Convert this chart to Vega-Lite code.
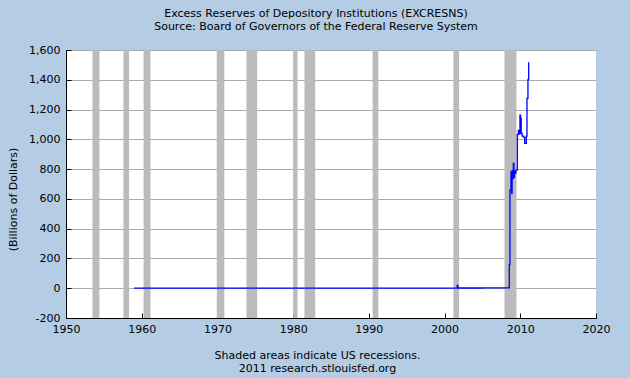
{
  "$schema": "https://vega.github.io/schema/vega-lite/v6.json",
  "autosize": "none",
  "width": 530,
  "height": 268,
  "padding": {"left": 66, "top": 50, "right": 34, "bottom": 60},
  "background": "#B4CCE4",
  "config": {
    "view": {"fill": "white", "stroke": null},
    "font": "DejaVu Sans",
    "axis": {
      "labelFont": "DejaVu Sans",
      "titleFont": "DejaVu Sans",
      "labelFontSize": 11,
      "titleFontSize": 11,
      "titleFontWeight": "normal",
      "labelColor": "black",
      "titleColor": "black",
      "domainColor": "black",
      "tickColor": "black",
      "gridColor": "#AAAAAA",
      "gridOpacity": 1,
      "domainWidth": 1,
      "tickWidth": 1
    }
  },
  "title": {
    "text": ["Excess Reserves of Depository Institutions (EXCRESNS)", "Source: Board of Governors of the Federal Reserve System"],
    "font": "DejaVu Sans",
    "fontSize": 11,
    "fontWeight": "normal",
    "color": "black",
    "anchor": "middle",
    "frame": "group",
    "dx": -15,
    "offset": 12,
    "lineHeight": 13
  },
  "layer": [
    {
      "data": {
        "values": [
          {"start": "1953-07-01", "end": "1954-06-01"},
          {"start": "1957-08-01", "end": "1958-05-01"},
          {"start": "1960-04-01", "end": "1961-03-01"},
          {"start": "1969-12-01", "end": "1970-12-01"},
          {"start": "1973-11-01", "end": "1975-04-01"},
          {"start": "1980-01-01", "end": "1980-08-01"},
          {"start": "1981-07-01", "end": "1982-12-01"},
          {"start": "1990-07-01", "end": "1991-04-01"},
          {"start": "2001-03-01", "end": "2001-12-01"},
          {"start": "2007-12-01", "end": "2009-07-01"}
        ]
      },
      "mark": {"type": "rect", "color": "#BBBBBB"},
      "encoding": {
        "x": {
          "field": "start",
          "type": "temporal",
          "scale": {"type": "utc", "domain": [{"year": 1950, "month": 1, "date": 1, "utc": true}, {"year": 2020, "month": 1, "date": 1, "utc": true}], "nice": false},
          "axis": {
            "orient": "bottom",
            "grid": false,
            "values": [
              {"year": 1950, "utc": true}, {"year": 1960, "utc": true}, {"year": 1970, "utc": true},
              {"year": 1980, "utc": true}, {"year": 1990, "utc": true}, {"year": 2000, "utc": true},
              {"year": 2010, "utc": true}, {"year": 2020, "utc": true}
            ],
            "format": "%Y",
            "formatType": "utc",
            "tickSize": -5,
            "labelPadding": 10,
            "labelFlush": false,
            "labelOverlap": false,
            "title": ["Shaded areas indicate US recessions.", "2011 research.stlouisfed.org"],
            "titleLineHeight": 13,
            "titleX": 251,
            "titleY": 31,
            "titleBaseline": "top",
            "titleAlign": "center"
          }
        },
        "x2": {"field": "end"}
      }
    },
    {
      "data": {
        "values": [
          {"date": "1959-01-01", "value": 0.5},
          {"date": "1965-01-01", "value": 0.4},
          {"date": "1970-01-01", "value": 0.2},
          {"date": "1975-01-01", "value": 0.3},
          {"date": "1980-01-01", "value": 0.5},
          {"date": "1985-01-01", "value": 1.0},
          {"date": "1990-01-01", "value": 1.0},
          {"date": "1995-01-01", "value": 1.1},
          {"date": "2000-01-01", "value": 1.2},
          {"date": "2001-08-01", "value": 1.3},
          {"date": "2001-09-01", "value": 19.0},
          {"date": "2001-10-01", "value": 1.6},
          {"date": "2005-01-01", "value": 1.8},
          {"date": "2008-07-01", "value": 2.0},
          {"date": "2008-07-20", "value": 159},
          {"date": "2008-08-20", "value": 659},
          {"date": "2008-10-10", "value": 782},
          {"date": "2008-11-15", "value": 638},
          {"date": "2008-12-01", "value": 790},
          {"date": "2009-01-01", "value": 737},
          {"date": "2009-02-01", "value": 838},
          {"date": "2009-03-01", "value": 746},
          {"date": "2009-04-01", "value": 787},
          {"date": "2009-05-01", "value": 773},
          {"date": "2009-06-01", "value": 793},
          {"date": "2009-08-10", "value": 1033},
          {"date": "2009-10-01", "value": 1060},
          {"date": "2009-11-10", "value": 1037},
          {"date": "2009-12-15", "value": 1163},
          {"date": "2010-01-15", "value": 1140},
          {"date": "2010-02-15", "value": 1040},
          {"date": "2010-04-01", "value": 1022},
          {"date": "2010-06-01", "value": 1015},
          {"date": "2010-08-01", "value": 973},
          {"date": "2010-10-20", "value": 1022},
          {"date": "2010-11-20", "value": 1275},
          {"date": "2011-01-05", "value": 1403},
          {"date": "2011-02-10", "value": 1515},
          {"date": "2011-02-20", "value": 1515}
        ]
      },
      "mark": {"type": "line", "color": "#0000FF", "strokeWidth": 1.3, "interpolate": "step-after"},
      "encoding": {
        "x": {"field": "date", "type": "temporal"},
        "y": {
          "field": "value",
          "type": "quantitative",
          "scale": {"domain": [-200, 1600], "nice": false, "zero": false},
          "axis": {
            "orient": "left",
            "values": [-200, 0, 200, 400, 600, 800, 1000, 1200, 1400, 1600],
            "format": ",d",
            "labelExpr": "replace(datum.label, '\u2212', '-')",
            "grid": true,
            "tickSize": -5,
            "labelPadding": 11,
            "title": "(Billions of Dollars)",
            "titleX": -53,
            "titleY": 149,
            "titleAlign": "center",
            "titleBaseline": "middle",
            "titleAngle": 270
          }
        }
      }
    }
  ]
}
